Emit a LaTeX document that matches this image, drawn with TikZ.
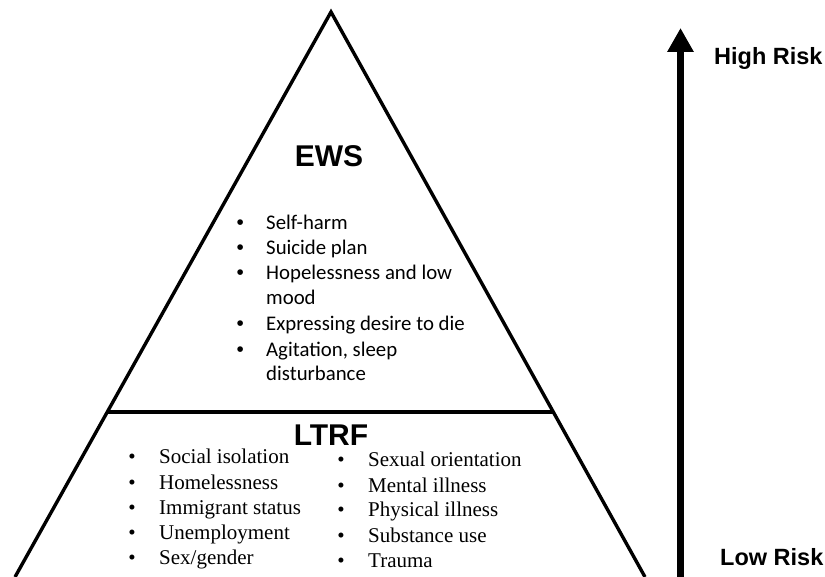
\documentclass[tikz,border=0pt]{standalone}
\usepackage{fontspec}
\setmainfont{Liberation Serif}
\setsansfont{Liberation Sans}
\newfontfamily\carlito{Carlito}
\usepackage{tikz}
\usetikzlibrary{positioning}
\usetikzlibrary{calc}
\usetikzlibrary{arrows.meta}

\begin{document}
\begin{tikzpicture}
  [x=1pt, y=-1pt,
    edge/.style={line width=3.4pt, line join=miter},
    head/.style={font=\sffamily\bfseries\fontsize{30}{30}\selectfont, inner sep=0pt, anchor=base},
    risk/.style={font=\sffamily\bfseries\fontsize{23.5}{23.5}\selectfont, inner sep=0pt, anchor=base west},
    ews/.style={font=\carlito\fontsize{20.8}{25}\selectfont, inner sep=0pt, anchor=base west},
    ewsdot/.style={font=\sffamily\fontsize{20.8}{25}\selectfont, inner sep=0pt, anchor=base east},
    ltrf/.style={font=\rmfamily\fontsize{21}{25}\selectfont, inner sep=0pt, anchor=base west}
  ]
  \useasboundingbox (0,0) rectangle (825,577);

  % pyramid
  \coordinate (top) at (331,12);
  \coordinate (botL) at (15,577);
  \coordinate (botR) at (645,577);
  \draw [edge] (botL) -- (top) -- (botR);
  \coordinate (midL) at ($(top)!0.708!(botL)$);
  \coordinate (midR) at ($(top)!0.708!(botR)$);
  \draw [edge] (midL) -- (midR);

  % risk scale
  \coordinate (lowEnd) at (680.5,580);
  \coordinate (highEnd) at (680.5,28);
  \draw [line width=7pt, -{Triangle[length=24pt,width=25pt]}] (lowEnd) -- (highEnd);
  \node (high) at (714,65) [risk] {High Risk};
  \node (low) at (720,565) [risk] {Low Risk};

  \node (ews) at (329,167) [head] {EWS};
  \node (ltrf) at (331,445) [head] {LTRF};

  \node (e1) at (266,230) [ews] {Self-harm};
  \node (e2) at (266,255) [ews] {Suicide plan};
  \node (e3) at (266,280) [ews] {Hopelessness and low};
  \node (e3b) at (266,305) [ews] {mood};
  \node (e4) at (266,331) [ews] {Expressing desire to die};
  \node (e5) at (266,356) [ews] {Agitation, sleep};
  \node (e5b) at (266,381) [ews] {disturbance};
  \node (E1) [ewsdot, base left=22pt of e1] {\textbullet};
  \node (E2) [ewsdot, base left=22pt of e2] {\textbullet};
  \node (E3) [ewsdot, base left=22pt of e3] {\textbullet};
  \node (E4) [ewsdot, base left=22pt of e4] {\textbullet};
  \node (E5) [ewsdot, base left=22pt of e5] {\textbullet};

  \node (l1) at (159,463) [ltrf] {Social isolation};
  \node (l2) at (159,489) [ltrf] {Homelessness};
  \node (l3) at (159,514) [ltrf] {Immigrant status};
  \node (l4) at (159,539) [ltrf] {Unemployment};
  \node (l5) at (159,564) [ltrf] {Sex/gender};
  \node (L1) [ltrf, anchor=base east, base left=23pt of l1] {\textbullet};
  \node (L2) [ltrf, anchor=base east, base left=23pt of l2] {\textbullet};
  \node (L3) [ltrf, anchor=base east, base left=23pt of l3] {\textbullet};
  \node (L4) [ltrf, anchor=base east, base left=23pt of l4] {\textbullet};
  \node (L5) [ltrf, anchor=base east, base left=23pt of l5] {\textbullet};

  \node (r1) at (368,466) [ltrf] {Sexual orientation};
  \node (r2) at (368,492) [ltrf] {Mental illness};
  \node (r3) at (368,516) [ltrf] {Physical illness};
  \node (r4) at (368,542) [ltrf] {Substance use};
  \node (r5) at (368,567) [ltrf] {Trauma};
  \node (R1) [ltrf, anchor=base east, base left=23pt of r1] {\textbullet};
  \node (R2) [ltrf, anchor=base east, base left=23pt of r2] {\textbullet};
  \node (R3) [ltrf, anchor=base east, base left=23pt of r3] {\textbullet};
  \node (R4) [ltrf, anchor=base east, base left=23pt of r4] {\textbullet};
  \node (R5) [ltrf, anchor=base east, base left=23pt of r5] {\textbullet};

\end{tikzpicture}
\end{document}
